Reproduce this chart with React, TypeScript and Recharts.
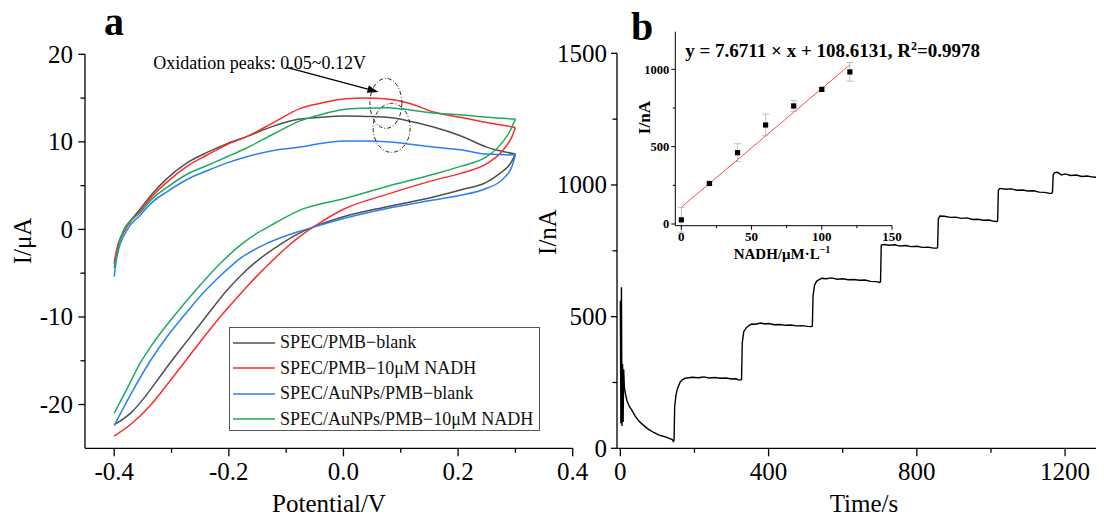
import React from "react"
import {
  ComposedChart,
  ErrorBar,
  Line,
  LineChart,
  ReferenceDot,
  ReferenceLine,
  Scatter,
  XAxis,
  YAxis,
} from "recharts"

const SERIF = "'Liberation Serif', 'Times New Roman', serif"

type Pt = [number, number]

// (a) cyclic voltammograms, [E / V, I / µA]; forward sweep -0.4 -> 0.3 V, then back
const pmbBlank: Pt[] = [
  [-0.4, -4.0], [-0.393, -1.8], [-0.381, 0], [-0.355, 2.3], [-0.332, 4.2], [-0.308, 5.8],
  [-0.273, 7.6], [-0.238, 8.8], [-0.203, 9.8], [-0.169, 10.6], [-0.122, 11.8], [-0.076, 12.6],
  [-0.04, 12.8], [0, 12.95], [0.04, 12.9], [0.076, 12.8], [0.12, 12.3], [0.157, 11.7],
  [0.204, 10.7], [0.25, 9.4], [0.3, 8.6],
  [0.291, 7.5], [0.273, 6.4], [0.25, 5.4], [0.204, 4.5], [0.157, 3.7], [0.076, 2.6], [0, 1.45],
  [-0.04, 0.6], [-0.076, -0.4], [-0.11, -1.7], [-0.145, -3.3], [-0.175, -5.0], [-0.204, -7.0],
  [-0.238, -9.8], [-0.27, -12.5], [-0.302, -15.2], [-0.32, -16.8], [-0.345, -19.0], [-0.37, -20.9],
  [-0.4, -22.3],
]
const pmbNadh: Pt[] = [
  [-0.4, -3.7], [-0.393, -1.6], [-0.381, 0], [-0.355, 2.1], [-0.332, 3.9], [-0.308, 5.4],
  [-0.273, 7.2], [-0.238, 8.5], [-0.203, 9.7], [-0.169, 10.6], [-0.122, 12.2], [-0.076, 13.8],
  [-0.04, 14.4], [0, 14.9], [0.04, 15.0], [0.076, 14.9], [0.12, 14.3], [0.157, 13.4],
  [0.204, 12.8], [0.25, 12.2], [0.3, 11.65],
  [0.294, 10.6], [0.279, 9.1], [0.25, 7.5], [0.204, 6.4], [0.157, 5.6], [0.076, 4.0], [0, 2.3],
  [-0.04, 0.8], [-0.076, -0.8], [-0.1, -2.1], [-0.131, -4.0], [-0.15, -5.25], [-0.175, -7.0],
  [-0.206, -9.3], [-0.24, -12.0], [-0.273, -14.8], [-0.305, -17.5], [-0.337, -20.1], [-0.37, -22.2],
  [-0.4, -23.6],
]
const auBlank: Pt[] = [
  [-0.4, -5.4], [-0.395, -3.0], [-0.377, 0], [-0.355, 1.6], [-0.332, 3.2], [-0.308, 4.3],
  [-0.273, 5.7], [-0.238, 6.7], [-0.203, 7.6], [-0.169, 8.3], [-0.122, 9.0], [-0.076, 9.4],
  [-0.04, 9.8], [0, 10.1], [0.04, 10.1], [0.076, 10.0], [0.12, 9.7], [0.157, 9.4],
  [0.204, 9.1], [0.25, 8.6], [0.3, 8.5],
  [0.294, 7.2], [0.279, 5.8], [0.25, 4.7], [0.204, 3.9], [0.157, 3.35], [0.076, 2.4], [0, 1.25],
  [-0.04, 0.5], [-0.076, -0.2], [-0.13, -1.5], [-0.18, -3.3], [-0.21, -5.0], [-0.244, -7.2],
  [-0.279, -9.9], [-0.305, -12.0], [-0.337, -15.0], [-0.37, -18.7], [-0.4, -22.4],
]
const auNadh: Pt[] = [
  [-0.4, -4.4], [-0.392, -1.8], [-0.383, 0], [-0.355, 1.9], [-0.332, 3.6], [-0.308, 4.8],
  [-0.273, 6.3], [-0.238, 7.3], [-0.203, 8.3], [-0.169, 9.3], [-0.122, 10.9], [-0.076, 12.4],
  [-0.04, 13.1], [0, 13.7], [0.04, 13.85], [0.076, 13.9], [0.12, 13.6], [0.157, 13.3],
  [0.204, 13.1], [0.25, 12.8], [0.3, 12.6],
  [0.291, 11.3], [0.273, 9.6], [0.25, 8.3], [0.204, 7.2], [0.157, 6.3], [0.076, 4.9], [0, 3.5],
  [-0.076, 2.2], [-0.12, 0.7], [-0.15, -0.4], [-0.18, -1.8], [-0.212, -3.7], [-0.256, -6.8],
  [-0.297, -10.0], [-0.33, -12.8], [-0.355, -15.3], [-0.38, -18.5], [-0.4, -21.0],
]

const cvSeries = [
  { name: "SPEC/PMB−blank", color: "#505050", pts: pmbBlank },
  { name: "SPEC/PMB−10μM NADH", color: "#ff2a2a", pts: pmbNadh },
  { name: "SPEC/AuNPs/PMB−blank", color: "#2a80ee", pts: auBlank },
  { name: "SPEC/AuNPs/PMB−10μM NADH", color: "#1faa5e", pts: auNadh },
]

// (b) amperometric i-t response, [t / s, I / nA]
const itTrace: Pt[] = [
  [0, 560], [1.5, 95], [3, 612], [4.5, 85], [6, 320], [7.5, 100], [9, 300], [11, 230], [14, 205],
  [18, 180], [24, 160], [31, 145], [40, 122], [50, 104], [62, 88], [76, 72], [90, 60], [105, 50],
  [120, 44], [132, 38], [140, 33], [143, 26],
  [145, 30], [146.6, 158], [150, 200], [153, 221], [158, 240], [162, 253], [168, 261], [175, 266],
  [185, 268], [193, 270], [210, 268], [225, 271], [240, 267], [255, 269], [270, 266], [285, 267],
  [300, 263], [312, 264], [320, 259], [325, 260],
  [327, 262], [329, 400], [333, 443], [340, 458], [348, 467], [354, 472], [365, 471], [378, 476],
  [390, 472], [400, 474], [415, 469], [430, 470], [445, 467], [460, 468], [475, 465], [490, 466],
  [505, 463], [515, 462],
  [518, 464], [520, 580], [524, 620], [530, 635], [543, 646], [555, 644], [570, 647], [585, 642],
  [600, 644], [615, 640], [630, 641], [645, 638], [660, 639], [675, 634], [690, 633], [700, 630],
  [702, 632], [704, 772], [712, 774], [725, 771], [740, 773], [755, 768], [770, 770], [785, 766],
  [800, 767], [815, 763], [830, 764], [845, 760], [854, 760],
  [856, 762], [858, 870], [862, 882], [875, 881], [890, 877], [905, 878], [920, 873], [935, 875],
  [950, 869], [965, 870], [980, 866], [995, 867], [1008, 862], [1016, 861],
  [1018, 864], [1020, 980], [1024, 987], [1040, 984], [1055, 985], [1070, 980], [1085, 981],
  [1100, 977], [1115, 978], [1130, 973], [1145, 972], [1158, 968], [1164, 968],
  [1166, 972], [1168, 1040], [1172, 1047], [1180, 1048], [1190, 1038], [1200, 1042], [1215, 1036],
  [1230, 1038], [1245, 1032], [1260, 1034], [1275, 1030], [1290, 1029], [1305, 1025],
]

// calibration inset: NADH concentration vs steady-state current
const calConc = [0, 20, 40, 60, 80, 100, 120]
const calCurrent = [27, 262, 461, 640, 763, 870, 983]
const calErr = [80, 8, 58, 70, 35, 10, 60]
const fitSlope = 7.6711
const fitIntercept = 108.6131
const fitRange = [0, 120]

const cvTicksX = [-0.4, -0.3, -0.2, -0.1, 0, 0.1, 0.2, 0.3, 0.4]
const cvMajorX = [-0.4, -0.2, 0, 0.2, 0.4]
const cvTicksY = [-20, -15, -10, -5, 0, 5, 10, 15, 20]
const cvMajorY = [-20, -10, 0, 10, 20]
const itTicksX = [0, 200, 400, 600, 800, 1000, 1200]
const itMajorX = [0, 400, 800, 1200]
const itTicksY = [0, 250, 500, 750, 1000, 1250, 1500]
const itMajorY = [0, 500, 1000, 1500]
const calTicksX = [0, 25, 50, 75, 100, 125, 150]
const calMajorX = [0, 50, 100, 150]
const calTicksY = [0, 250, 500, 750, 1000]
const calMajorY = [0, 500, 1000]

// split a loop at its vertex potential into two branches, both in ascending E
function branches(pts: Pt[]) {
  let turn = 0
  pts.forEach(([v], k) => {
    if (v > pts[turn][0]) turn = k
  })
  const rows = (arr: Pt[]) => arr.map(([v, i]) => ({ v, i }))
  return [rows(pts.slice(0, turn + 1)), rows(pts.slice(turn).reverse())]
}

type TickOpts = {
  majors: number[]
  fmt: (v: number) => string
  size: number
  bold?: boolean
  major: number
  minor: number
  gap: number
  sw?: number
}

const isMajor = (majors: number[], v: number) => majors.some((m) => Math.abs(m - v) < 1e-9)

function leftTick(o: TickOpts) {
  return (p: any) => {
    const { x, y, payload } = p
    const big = isMajor(o.majors, payload.value)
    return (
      <g>
        <line x1={x} y1={y} x2={x - (big ? o.major : o.minor)} y2={y} stroke="#000" strokeWidth={o.sw ?? 1.3} />
        {big && (
          <text x={x - o.gap} y={y + o.size * 0.34} textAnchor="end" fontFamily={SERIF}
            fontSize={o.size} fontWeight={o.bold ? 700 : 400} fill="#000">
            {o.fmt(payload.value)}
          </text>
        )}
      </g>
    )
  }
}

function bottomTick(o: TickOpts) {
  return (p: any) => {
    const { x, y, payload } = p
    const big = isMajor(o.majors, payload.value)
    return (
      <g>
        <line x1={x} y1={y} x2={x} y2={y + (big ? o.major : o.minor)} stroke="#000" strokeWidth={o.sw ?? 1.3} />
        {big && (
          <text x={x} y={y + o.gap} textAnchor="middle" fontFamily={SERIF}
            fontSize={o.size} fontWeight={o.bold ? 700 : 400} fill="#000">
            {o.fmt(payload.value)}
          </text>
        )}
      </g>
    )
  }
}

const axisLine = { stroke: "#000", strokeWidth: 1.3 }

function Arrow(p: any) {
  const { x1, y1, x2, y2 } = p
  const a = Math.atan2(y2 - y1, x2 - x1)
  const bx = x2 - 11 * Math.cos(a)
  const by = y2 - 11 * Math.sin(a)
  const w = 3.8
  const head = `${x2},${y2} ${bx - w * Math.sin(a)},${by + w * Math.cos(a)} ${bx + w * Math.sin(a)},${by - w * Math.cos(a)}`
  return (
    <g>
      <line x1={x1} y1={y1} x2={bx} y2={by} stroke="#000" strokeWidth={1.2} />
      <polygon points={head} fill="#000" />
    </g>
  )
}

const ellipseShape = (rx: number, ry: number) => (p: any) => (
  <ellipse cx={p.cx} cy={p.cy} rx={rx} ry={ry} fill="none" stroke="#222" strokeWidth={1}
    strokeDasharray="4 2 1 2" />
)

const noteShape = (p: any) => (
  <text x={p.cx} y={p.cy} fontFamily={SERIF} fontSize={18} fill="#000">
    Oxidation peaks: 0.05~0.12V
  </text>
)

function CvPanel() {
  return (
    <LineChart width={600} height={520} margin={{ top: 54.3, right: 27.3, bottom: 21.7, left: 25 }}>
      <XAxis type="number" dataKey="v" domain={[-0.451, 0.4]} ticks={cvTicksX} interval={0}
        tickSize={0} tickMargin={0} tickLine={false} axisLine={axisLine} height={50}
        tick={bottomTick({ majors: cvMajorX, fmt: (v) => v.toFixed(1), size: 25, major: 8, minor: 4.5, gap: 32 })} />
      <YAxis type="number" domain={[-25, 20]} ticks={cvTicksY} interval={0} width={60}
        tickSize={0} tickMargin={0} tickLine={false} axisLine={axisLine}
        tick={leftTick({ majors: cvMajorY, fmt: (v) => String(v), size: 25, major: 6.7, minor: 4.5, gap: 12 })} />
      {cvSeries.flatMap((s) =>
        branches(s.pts).map((rows, k) => (
          <Line key={`${s.name}-${k}`} data={rows} dataKey="i" name={s.name}
            type="monotone" stroke={s.color} strokeWidth={1.5} dot={false} isAnimationActive={false} />
        )),
      )}
      <ReferenceDot x={0.074} y={14.4} r={1} ifOverflow="visible" shape={ellipseShape(16, 25)} />
      <ReferenceDot x={0.084} y={11.6} r={1} ifOverflow="visible" shape={ellipseShape(18.5, 24.5)} />
      <ReferenceLine segment={[{ x: -0.099, y: 18.5 }, { x: 0.061, y: 15.7 }]} ifOverflow="visible" shape={Arrow} />
      <ReferenceDot x={-0.332} y={18.3} r={1} ifOverflow="visible" shape={noteShape} />
    </LineChart>
  )
}

function CvLegend() {
  return (
    <div style={{
      position: "absolute", left: 229, top: 327, width: 309, height: 102, border: "1px solid #555",
      background: "#fff", fontFamily: SERIF, fontSize: 18, color: "#111",
    }}>
      {cvSeries.map((s, k) => (
        <div key={s.name} style={{ position: "absolute", left: 2, top: 2 + k * 25.5, height: 25, display: "flex", alignItems: "center" }}>
          <svg width={44} height={4} style={{ marginRight: 4 }}>
            <line x1={1} y1={2} x2={43} y2={2} stroke={s.color} strokeWidth={1.6} />
          </svg>
          <span style={{ whiteSpace: "nowrap" }}>{s.name}</span>
        </div>
      ))}
    </div>
  )
}

function ItPanel() {
  const data = itTrace.map(([t, i]) => ({ t, i }))
  return (
    <LineChart width={564} height={520} data={data} margin={{ top: 53.3, right: 0, bottom: 21.7, left: 17 }}>
      <XAxis type="number" dataKey="t" domain={[-9, 1305]} ticks={itTicksX} interval={0}
        tickSize={0} tickMargin={0} tickLine={false} axisLine={axisLine} height={50}
        tick={bottomTick({ majors: itMajorX, fmt: (v) => String(v), size: 25, major: 8, minor: 4.5, gap: 32 })} />
      <YAxis type="number" domain={[0, 1500]} ticks={itTicksY} interval={0} width={60}
        tickSize={0} tickMargin={0} tickLine={false} axisLine={axisLine}
        tick={leftTick({ majors: itMajorY, fmt: (v) => String(v), size: 25, major: 6, minor: 4.5, gap: 10 })} />
      <Line dataKey="i" type="linear" stroke="#000" strokeWidth={1.4} dot={false} isAnimationActive={false} />
    </LineChart>
  )
}

const squareDot = (p: any) => <rect x={p.cx - 2.6} y={p.cy - 2.6} width={5.2} height={5.2} fill="#000" />

function CalInset() {
  const pts = calConc.map((x, k) => ({ x, y: calCurrent[k], err: calErr[k] }))
  const fit = fitRange.map((x) => ({ x, y: fitSlope * x + fitIntercept }))
  return (
    <ComposedChart width={300} height={270} margin={{ top: 31.7, right: 28, bottom: 14.3, left: 15.3 }}>
      <XAxis type="number" dataKey="x" domain={[-4.3, 150]} ticks={calTicksX} interval={0}
        tickSize={0} tickMargin={0} tickLine={false} axisLine={{ stroke: "#000", strokeWidth: 1 }} height={30}
        tick={bottomTick({ majors: calMajorX, fmt: (v) => String(v), size: 13, bold: true, major: 4, minor: 2.5, gap: 15, sw: 1 })} />
      <YAxis type="number" dataKey="y" domain={[-11, 1243]} ticks={calTicksY} interval={0} width={40}
        allowDataOverflow tickSize={0} tickMargin={0} tickLine={false} axisLine={{ stroke: "#000", strokeWidth: 1 }}
        tick={leftTick({ majors: calMajorY, fmt: (v) => String(v), size: 12.5, bold: true, major: 4, minor: 2.5, gap: 6, sw: 1 })} />
      <Line data={fit} dataKey="y" type="linear" stroke="#ff4a4a" strokeWidth={1} dot={false} isAnimationActive={false} />
      <Scatter data={pts} dataKey="y" shape={squareDot} isAnimationActive={false}>
        <ErrorBar dataKey="err" direction="y" width={3.5} stroke="#a8a8a8" strokeWidth={0.7} />
      </Scatter>
    </ComposedChart>
  )
}

function Titles() {
  const t = { fontFamily: SERIF, fill: "#000" }
  return (
    <svg width={1104} height={520} style={{ position: "absolute", left: 0, top: 0, pointerEvents: "none" }}>
      <text {...t} x={104} y={35} fontSize={40} fontWeight={700}>a</text>
      <text {...t} x={631} y={39.5} fontSize={40} fontWeight={700}>b</text>
      <text {...t} x={329} y={512} fontSize={25} textAnchor="middle">Potential/V</text>
      <text {...t} fontSize={25} textAnchor="middle" transform="translate(31,241) rotate(-90)">I/μA</text>
      <text {...t} x={864} y={512} fontSize={25} textAnchor="middle">Time/s</text>
      <text {...t} fontSize={25} textAnchor="middle" transform="translate(556,232) rotate(-90)">I/nA</text>
      <text {...t} x={685.3} y={56.7} fontSize={19} fontWeight={700}>
        y = 7.6711 × x + 108.6131, R<tspan dy={-7} fontSize={12}>2</tspan><tspan dy={7}>=0.9978</tspan>
      </text>
      <text {...t} fontSize={17} fontWeight={700} textAnchor="middle" transform="translate(649.5,117.6) rotate(-90)">I/nA</text>
      <text {...t} x={782} y={259} fontSize={15} fontWeight={700} textAnchor="middle">
        NADH/μM·L<tspan dy={-6} fontSize={10}>−1</tspan>
      </text>
    </svg>
  )
}

export default function App() {
  return (
    <div style={{ position: "relative", width: 1104, height: 520, margin: -8, overflow: "hidden", background: "#fff" }}>
      <div style={{ position: "absolute", left: 0, top: 0 }}>
        <CvPanel />
      </div>
      <CvLegend />
      <div style={{ position: "absolute", left: 540, top: 0 }}>
        <ItPanel />
      </div>
      <div style={{ position: "absolute", left: 620, top: 0 }}>
        <CalInset />
      </div>
      <Titles />
    </div>
  )
}
